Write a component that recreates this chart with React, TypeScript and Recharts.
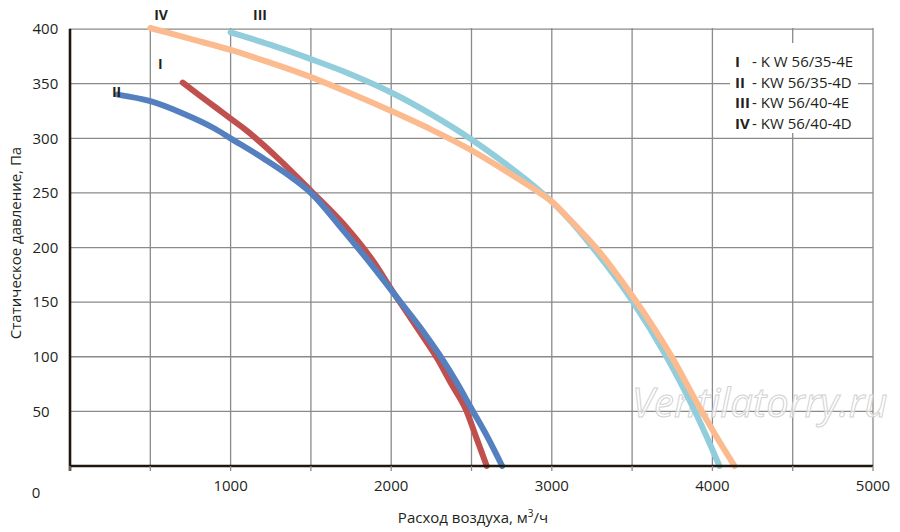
import React from 'react';
import {
  LineChart,
  Line,
  XAxis,
  YAxis,
  CartesianGrid,
  ReferenceLine,
  ReferenceDot,
  Legend,
  Customized,
} from 'recharts';

const FONT = '"Open Sans", "Noto Sans", sans-serif';

// Series names and legend descriptions
const seriesNames = ['I', 'II', 'III', 'IV'];
const seriesModels = ['- K W 56/35-4E', '- KW 56/35-4D', '- KW 56/40-4E', '- KW 56/40-4D'];
const seriesColors = ['#C0504D', '#5580C0', '#92CDDC', '#FCBB8E'];

// Curve I
const flowI = [702, 800, 910, 1000, 1100, 1300, 1500, 1700, 1900, 2000, 2100, 2200, 2280, 2375, 2467, 2530, 2595];
const pressI = [351, 340, 328, 318, 307, 281, 252, 222, 185, 162, 140, 118, 100, 75, 51, 26, 0];

// Curve II
const flowII = [296, 500, 700, 900, 1000, 1200, 1400, 1500, 1700, 1900, 2000, 2200, 2300, 2400, 2500, 2600, 2691];
const pressII = [340, 334, 323, 309, 300, 282, 262, 250, 216, 180, 161, 123, 102, 78.5, 52.5, 26.5, 0];

// Curve III
const flowIII = [1000, 1250, 1500, 1750, 2000, 2250, 2500, 2700, 2850, 3000, 3100, 3255, 3504, 3712, 3888, 3970, 4044];
const pressIII = [397, 385.5, 372.5, 358.5, 342, 322, 299, 278, 261, 242, 227, 200, 150.6, 100.6, 51, 25, 0];

// Curve IV
const flowIV = [500, 750, 1000, 1250, 1500, 1750, 2000, 2250, 2500, 2800, 2925, 3000, 3100, 3200, 3300, 3400, 3526, 3744, 3930, 4035, 4138];
const pressIV = [401, 391, 381, 369, 356, 341, 325, 308, 289, 262, 250, 242, 227.5, 212, 195.5, 176.5, 150.6, 100.6, 51, 24.5, 0];

// Axis ticks
const xTicks = [0, 500, 1000, 1500, 2000, 2500, 3000, 3500, 4000, 4500, 5000];
const yTicks = [0, 50, 100, 150, 200, 250, 300, 350, 400];

// Curve name annotations (data coordinates)
const labelNames = ['IV', 'III', 'I', 'II'];
const labelFlow = [567, 1183, 563, 290];
const labelPress = [412.7, 412.7, 368, 342];

const build = (xs: number[], ys: number[]) => xs.map((x, i) => ({ x, y: ys[i] }));
const seriesData = [build(flowI, pressI), build(flowII, pressII), build(flowIII, pressIII), build(flowIV, pressIV)];

const TEXT_COLOR = '#231f20';

const XTick = (props: any) => {
  const { x, y, payload } = props;
  const v = payload.value;
  if (v % 1000 !== 0) return <g />;
  if (v === 0) {
    return (
      <text x={x - 34} y={y + 24.5} textAnchor="middle" fontFamily={FONT} fontSize={15} fill={TEXT_COLOR}>
        0
      </text>
    );
  }
  return (
    <text x={x} y={y + 18} textAnchor="middle" fontFamily={FONT} fontSize={15} fill={TEXT_COLOR}>
      {v}
    </text>
  );
};

const YTick = (props: any) => {
  const { x, y, payload } = props;
  const v = payload.value;
  if (v === 0) return <g />;
  return (
    <text x={x - 37.5} y={y} dy="0.35em" textAnchor="start" fontFamily={FONT} fontSize={15} fill={TEXT_COLOR}>
      {v}
    </text>
  );
};

const LegendBox = () => (
  <div
    style={{
      background: '#fff',
      width: 128,
      height: 90,
      boxSizing: 'border-box',
      padding: '8px 0 0 5px',
      fontFamily: FONT,
      fontSize: 15,
      lineHeight: '20.7px',
      color: TEXT_COLOR,
      whiteSpace: 'nowrap',
    }}
  >
    {seriesNames.map((n, i) => (
      <div key={n}>
        <span style={{ display: 'inline-block', width: 17, fontWeight: 700 }}>{n}</span>
        <span>{seriesModels[i]}</span>
      </div>
    ))}
  </div>
);

const Titles = () => (
  <g>
    <text
      x={632}
      y={417}
      fontFamily={FONT}
      fontStyle="italic"
      fontSize={40}
      fill="#ffffff"
      fillOpacity={0.6}
      stroke="#d2d2d2"
      strokeWidth={1}
    >
      Ventilatorry.ru
    </text>
    <text x={473} y={523} textAnchor="middle" fontFamily={FONT} fontSize={15} fill={TEXT_COLOR}>
      Расход воздуха, м
      <tspan fontSize={10} dy={-6}>
        3
      </tspan>
      <tspan dy={6}>/ч</tspan>
    </text>
    <text
      x={21}
      y={243}
      transform="rotate(-90 21 243)"
      textAnchor="middle"
      fontFamily={FONT}
      fontSize={15}
      fill={TEXT_COLOR}
    >
      Статическое давление, Па
    </text>
  </g>
);

export default function App() {
  return (
    <div style={{ position: 'absolute', left: 0, top: 0, width: 900, height: 532, background: '#fff' }}>
      <LineChart width={900} height={532} margin={{ top: 28, right: 27, bottom: 36, left: 30 }}>
        <CartesianGrid stroke="#8a8a8a" strokeWidth={1.3} horizontalValues={yTicks} verticalValues={xTicks} />
        <XAxis
          type="number"
          dataKey="x"
          domain={[0, 5000]}
          ticks={xTicks}
          interval={0}
          height={30}
          tick={<XTick />}
          tickSize={5}
          tickMargin={2}
          tickLine={{ stroke: '#8a8a8a', strokeWidth: 1.3 }}
          axisLine={{ stroke: '#1f160d', strokeWidth: 2.6 }}
        />
        <YAxis
          type="number"
          domain={[0, 400]}
          ticks={yTicks}
          interval={0}
          width={40}
          tick={<YTick />}
          tickSize={0}
          tickMargin={0}
          tickLine={false}
          axisLine={false}
        />
        <Customized component={Titles} />
        <ReferenceLine
          segment={[
            { x: 0, y: -4.6 },
            { x: 0, y: 400 },
          ]}
          stroke="#1f160d"
          strokeWidth={2.6}
          ifOverflow="visible"
        />
        {seriesData.map((d, i) => (
          <Line
            key={seriesNames[i]}
            data={d}
            dataKey="y"
            name={seriesNames[i]}
            type="monotone"
            stroke={seriesColors[i]}
            strokeWidth={6}
            strokeLinecap="round"
            strokeLinejoin="round"
            dot={false}
            activeDot={false}
            isAnimationActive={false}
          />
        ))}
        {labelNames.map((n, i) => (
          <ReferenceDot
            key={'lbl' + n}
            x={labelFlow[i]}
            y={labelPress[i]}
            r={0}
            fill="none"
            stroke="none"
            ifOverflow="visible"
            label={{
              value: n,
              position: 'center',
              fill: TEXT_COLOR,
              fontFamily: FONT,
              fontSize: 14,
              fontWeight: 700,
            }}
          />
        ))}
        <Legend
          layout="horizontal"
          verticalAlign="middle"
          align="center"
          content={<LegendBox />}
          wrapperStyle={{ left: 730, top: 43, width: 128, height: 90 }}
        />
      </LineChart>
    </div>
  );
}
